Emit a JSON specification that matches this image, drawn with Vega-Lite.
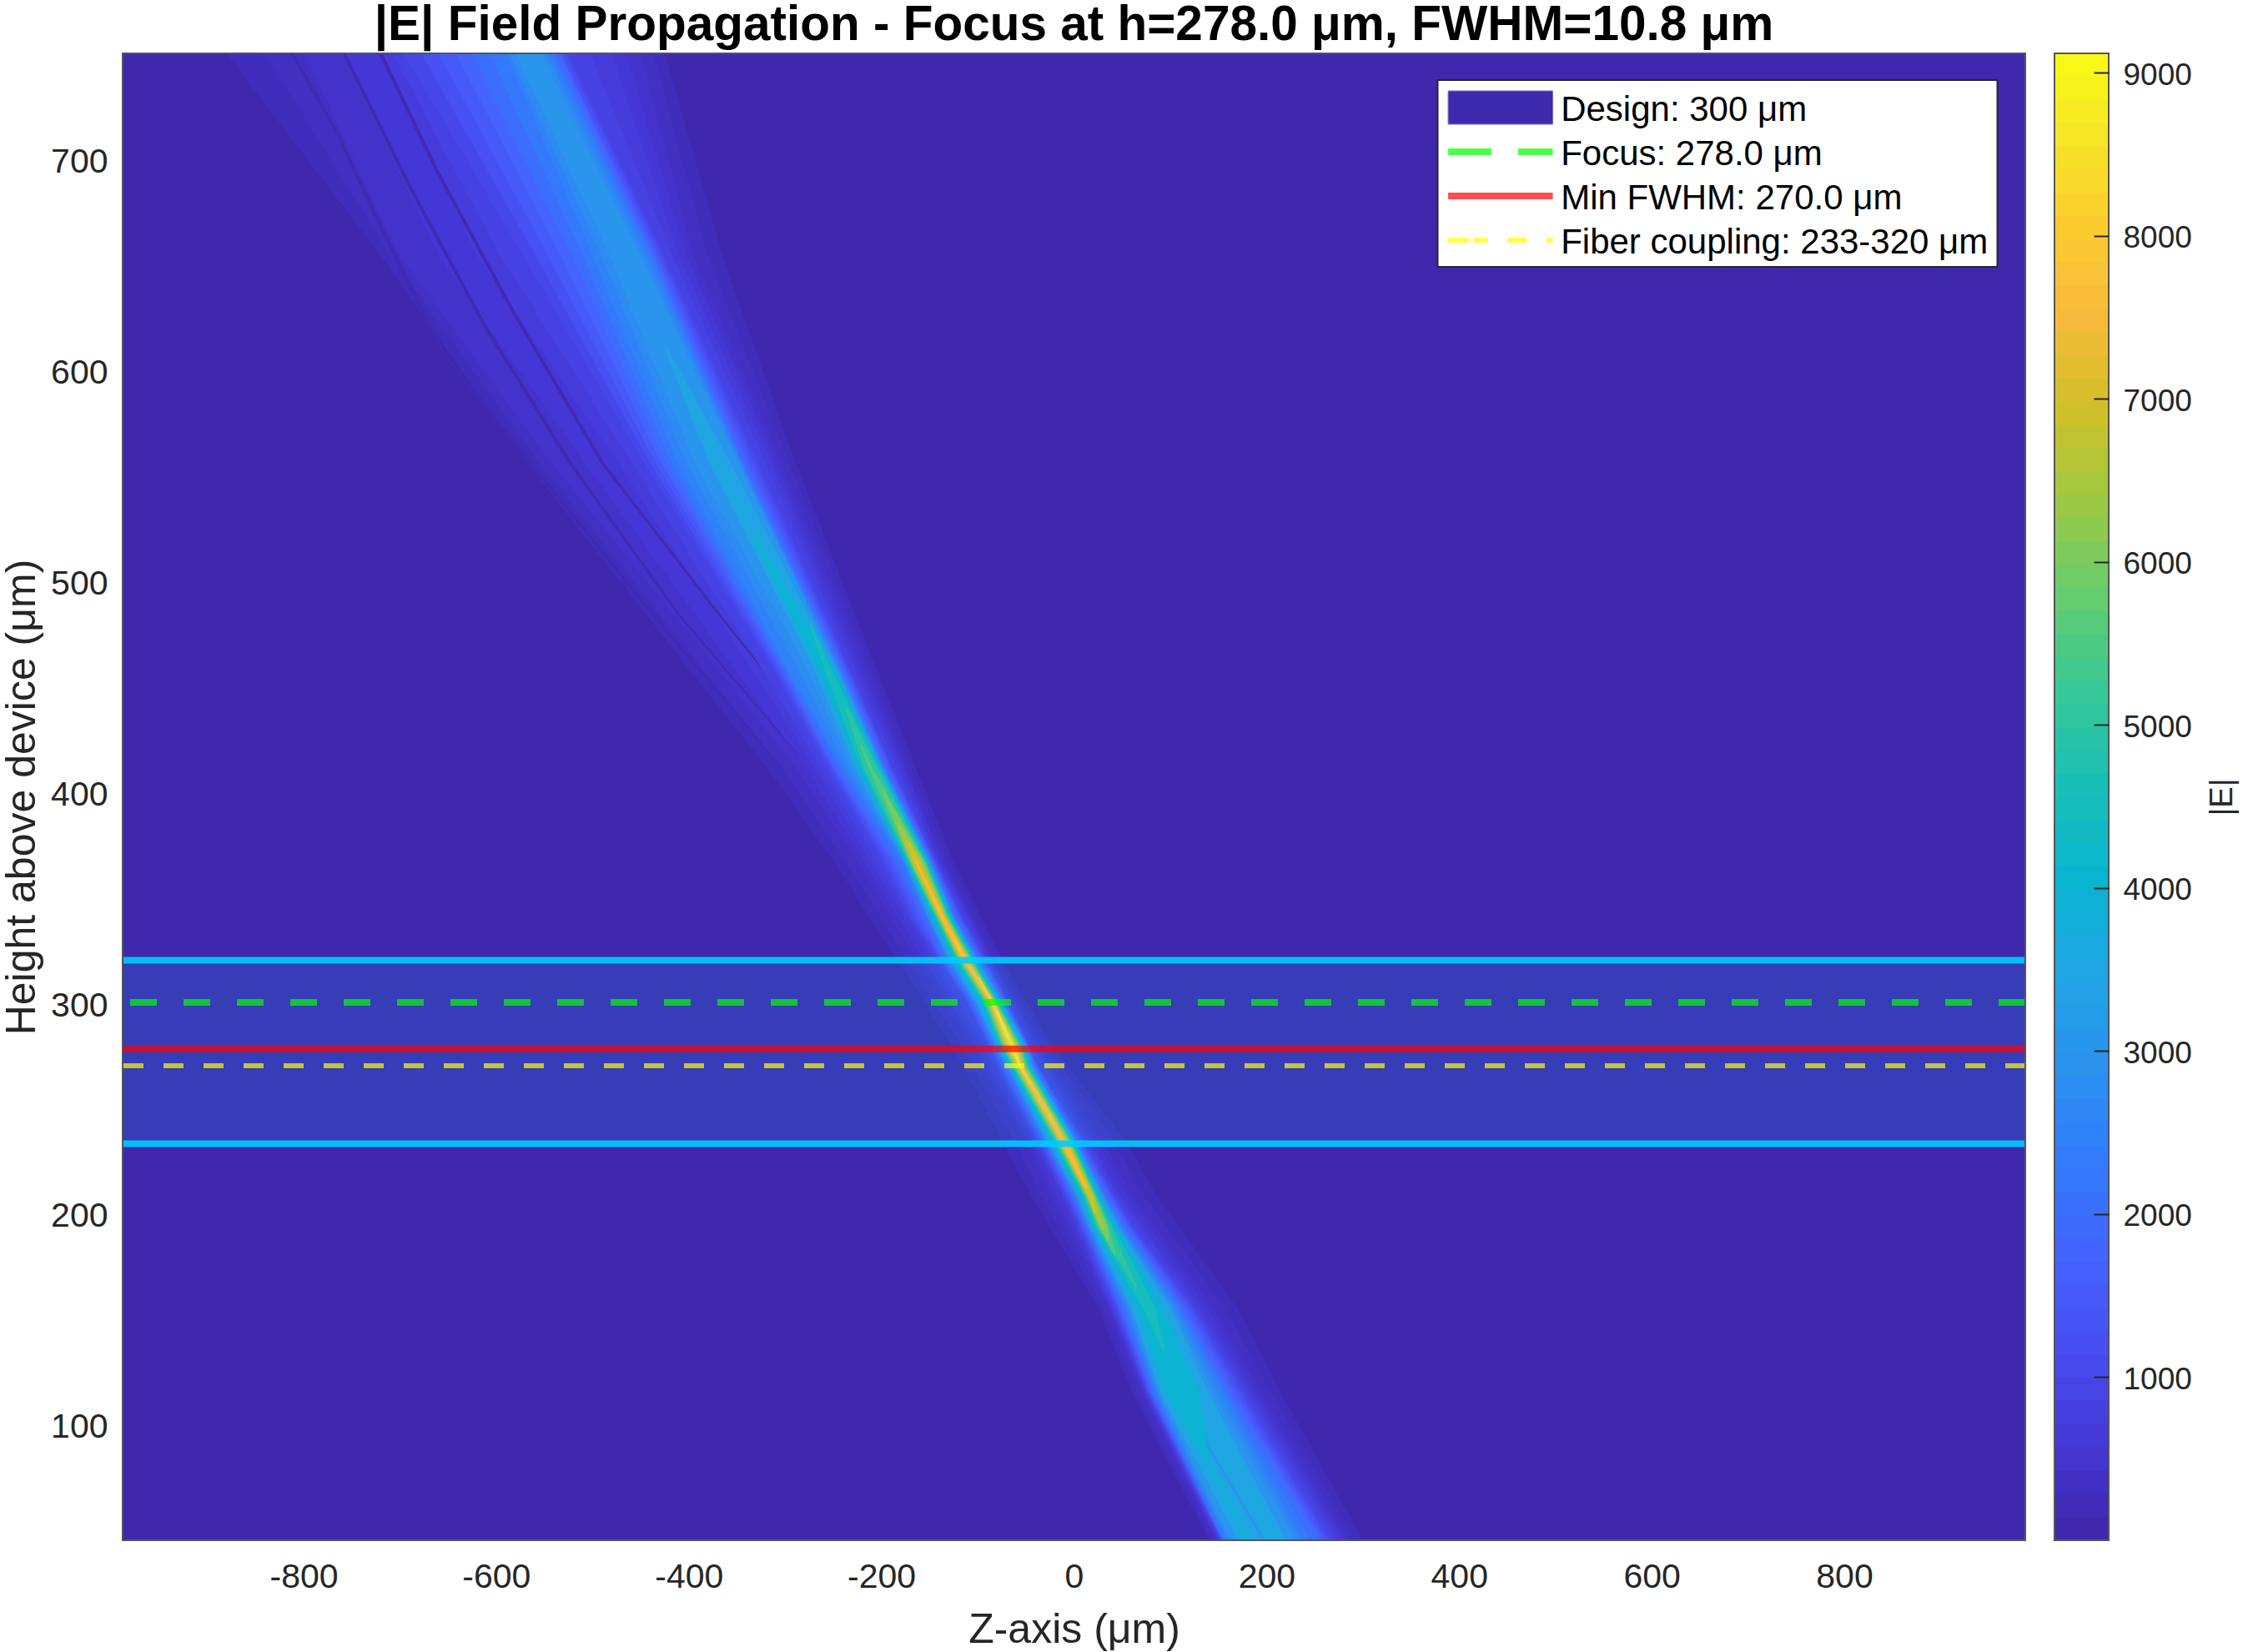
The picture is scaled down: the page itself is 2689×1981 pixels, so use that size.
{
"$schema":"https://vega.github.io/schema/vega-lite/v6.json",
"background":"white",
"padding":{"left":1,"top":0,"right":5,"bottom":5},
"config":{"view":{"stroke":null},"font":"Liberation Sans",
"axis":{"grid":false,"ticks":false,"domain":false,"labelFont":"Liberation Sans","titleFont":"Liberation Sans","labelFontSize":41,"titleFontSize":50,"labelColor":"#262626","titleColor":"#262626","titleFontWeight":"normal"}},
"datasets":{"one":[{"n":1}],"heat":[
{"band":"bg","h":45,"lo":-988,"hi":988,"v":60},{"band":"bg","h":750,"lo":-988,"hi":988,"v":60},
{"band":"h250","h":45,"lo":140,"hi":300,"v":250},{"band":"h250","h":115,"lo":60,"hi":215,"v":250},{"band":"h250","h":155,"lo":25,"hi":170,"v":250},{"band":"h250","h":209,"lo":-45,"hi":85,"v":250},{"band":"h250","h":234,"lo":-75,"hi":55,"v":250},{"band":"h250","h":278,"lo":-125,"hi":-20,"v":250},{"band":"h250","h":321,"lo":-185,"hi":-75,"v":250},{"band":"h250","h":367,"lo":-250,"hi":-125,"v":250},{"band":"h250","h":412,"lo":-320,"hi":-165,"v":250},{"band":"h250","h":458,"lo":-400,"hi":-205,"v":250},{"band":"h250","h":557,"lo":-570,"hi":-290,"v":250},{"band":"h250","h":654,"lo":-720,"hi":-365,"v":250},{"band":"h250","h":750,"lo":-880,"hi":-425,"v":250},
{"band":"h350","h":45,"lo":143,"hi":292,"v":350},{"band":"h350","h":115,"lo":65,"hi":205,"v":350},{"band":"h350","h":155,"lo":30,"hi":157,"v":350},{"band":"h350","h":209,"lo":-35,"hi":72,"v":350},{"band":"h350","h":234,"lo":-62,"hi":42,"v":350},{"band":"h350","h":278,"lo":-115,"hi":-25,"v":350},{"band":"h350","h":321,"lo":-175,"hi":-80,"v":350},{"band":"h350","h":367,"lo":-237,"hi":-130,"v":350},{"band":"h350","h":412,"lo":-305,"hi":-170,"v":350},{"band":"h350","h":458,"lo":-385,"hi":-210,"v":350},{"band":"h350","h":557,"lo":-557,"hi":-297,"v":350},{"band":"h350","h":654,"lo":-710,"hi":-380,"v":350},{"band":"h350","h":750,"lo":-840,"hi":-437,"v":350},
{"band":"h450","h":45,"lo":147,"hi":285,"v":450},{"band":"h450","h":115,"lo":70,"hi":195,"v":450},{"band":"h450","h":155,"lo":35,"hi":145,"v":450},{"band":"h450","h":209,"lo":-25,"hi":60,"v":450},{"band":"h450","h":234,"lo":-50,"hi":30,"v":450},{"band":"h450","h":278,"lo":-105,"hi":-30,"v":450},{"band":"h450","h":321,"lo":-165,"hi":-85,"v":450},{"band":"h450","h":367,"lo":-225,"hi":-135,"v":450},{"band":"h450","h":412,"lo":-290,"hi":-175,"v":450},{"band":"h450","h":458,"lo":-370,"hi":-215,"v":450},{"band":"h450","h":557,"lo":-545,"hi":-305,"v":450},{"band":"h450","h":654,"lo":-700,"hi":-395,"v":450},{"band":"h450","h":750,"lo":-800,"hi":-450,"v":450},
{"band":"h575","h":45,"lo":148,"hi":281,"v":575},{"band":"h575","h":115,"lo":72,"hi":190,"v":575},{"band":"h575","h":155,"lo":37,"hi":139,"v":575},{"band":"h575","h":209,"lo":-19,"hi":54,"v":575},{"band":"h575","h":234,"lo":-46,"hi":24,"v":575},{"band":"h575","h":278,"lo":-100,"hi":-34,"v":575},{"band":"h575","h":321,"lo":-157,"hi":-86,"v":575},{"band":"h575","h":367,"lo":-218,"hi":-137,"v":575},{"band":"h575","h":412,"lo":-280,"hi":-177,"v":575},{"band":"h575","h":458,"lo":-352,"hi":-220,"v":575},{"band":"h575","h":557,"lo":-510,"hi":-310,"v":575},{"band":"h575","h":654,"lo":-660,"hi":-402,"v":575},{"band":"h575","h":750,"lo":-760,"hi":-465,"v":575},
{"band":"h700","h":45,"lo":150,"hi":278,"v":700},{"band":"h700","h":115,"lo":74,"hi":185,"v":700},{"band":"h700","h":155,"lo":39,"hi":133,"v":700},{"band":"h700","h":209,"lo":-14,"hi":48,"v":700},{"band":"h700","h":234,"lo":-42,"hi":18,"v":700},{"band":"h700","h":278,"lo":-95,"hi":-38,"v":700},{"band":"h700","h":321,"lo":-150,"hi":-88,"v":700},{"band":"h700","h":367,"lo":-212,"hi":-140,"v":700},{"band":"h700","h":412,"lo":-270,"hi":-180,"v":700},{"band":"h700","h":458,"lo":-335,"hi":-225,"v":700},{"band":"h700","h":557,"lo":-475,"hi":-315,"v":700},{"band":"h700","h":654,"lo":-620,"hi":-410,"v":700},{"band":"h700","h":750,"lo":-720,"hi":-480,"v":700},
{"band":"d1","h":417,"lo":-286,"hi":-285,"v":150},{"band":"d1","h":484,"lo":-412,"hi":-409,"v":150},{"band":"d1","h":557,"lo":-527,"hi":-523,"v":150},{"band":"d1","h":621,"lo":-614,"hi":-610,"v":150},{"band":"d1","h":687,"lo":-692,"hi":-688,"v":150},{"band":"d1","h":750,"lo":-760,"hi":-756,"v":150},
{"band":"d2","h":425,"lo":-266,"hi":-265,"v":150},{"band":"d2","h":488,"lo":-377,"hi":-374,"v":150},{"band":"d2","h":556,"lo":-492,"hi":-488,"v":150},{"band":"d2","h":628,"lo":-585,"hi":-581,"v":150},{"band":"d2","h":693,"lo":-662,"hi":-658,"v":150},{"band":"d2","h":750,"lo":-722,"hi":-718,"v":150},
{"band":"d3","h":412,"lo":-306,"hi":-305,"v":150},{"band":"d3","h":483,"lo":-437,"hi":-434,"v":150},{"band":"d3","h":556,"lo":-567,"hi":-563,"v":150},{"band":"d3","h":608,"lo":-657,"hi":-653,"v":150},{"band":"d3","h":668,"lo":-722,"hi":-718,"v":150},{"band":"d3","h":713,"lo":-768,"hi":-764,"v":150},{"band":"d3","h":750,"lo":-814,"hi":-810,"v":150},
{"band":"h850","h":45,"lo":151,"hi":273,"v":850},{"band":"h850","h":115,"lo":75,"hi":181,"v":850},{"band":"h850","h":155,"lo":40,"hi":129,"v":850},{"band":"h850","h":209,"lo":-12,"hi":45,"v":850},{"band":"h850","h":234,"lo":-40,"hi":15,"v":850},{"band":"h850","h":278,"lo":-91,"hi":-41,"v":850},{"band":"h850","h":321,"lo":-146,"hi":-90,"v":850},{"band":"h850","h":367,"lo":-206,"hi":-141,"v":850},{"band":"h850","h":412,"lo":-264,"hi":-184,"v":850},{"band":"h850","h":458,"lo":-324,"hi":-228,"v":850},{"band":"h850","h":557,"lo":-461,"hi":-321,"v":850},{"band":"h850","h":654,"lo":-596,"hi":-417,"v":850},{"band":"h850","h":750,"lo":-708,"hi":-502,"v":850},
{"band":"l1000","h":45,"lo":152,"hi":269,"v":1000},{"band":"l1000","h":115,"lo":76,"hi":178,"v":1000},{"band":"l1000","h":155,"lo":42,"hi":126,"v":1000},{"band":"l1000","h":194,"lo":5,"hi":63,"v":1000},{"band":"l1000","h":209,"lo":-10,"hi":42,"v":1000},{"band":"l1000","h":234,"lo":-38,"hi":12,"v":1000},{"band":"l1000","h":270,"lo":-80,"hi":-37,"v":1000},{"band":"l1000","h":278,"lo":-88,"hi":-44,"v":1000},{"band":"l1000","h":300,"lo":-112,"hi":-68,"v":1000},{"band":"l1000","h":321,"lo":-142,"hi":-92,"v":1000},{"band":"l1000","h":340,"lo":-170,"hi":-115,"v":1000},{"band":"l1000","h":367,"lo":-200,"hi":-143,"v":1000},{"band":"l1000","h":412,"lo":-259,"hi":-189,"v":1000},{"band":"l1000","h":458,"lo":-313,"hi":-232,"v":1000},{"band":"l1000","h":557,"lo":-448,"hi":-328,"v":1000},{"band":"l1000","h":654,"lo":-572,"hi":-425,"v":1000},{"band":"l1000","h":750,"lo":-696,"hi":-525,"v":1000},
{"band":"l1250","h":45,"lo":153,"hi":265,"v":1250},{"band":"l1250","h":115,"lo":77,"hi":174,"v":1250},{"band":"l1250","h":155,"lo":44,"hi":123,"v":1250},{"band":"l1250","h":194,"lo":7,"hi":60,"v":1250},{"band":"l1250","h":209,"lo":-8,"hi":40,"v":1250},{"band":"l1250","h":234,"lo":-36,"hi":10,"v":1250},{"band":"l1250","h":270,"lo":-78,"hi":-38,"v":1250},{"band":"l1250","h":278,"lo":-86,"hi":-45,"v":1250},{"band":"l1250","h":300,"lo":-110,"hi":-69,"v":1250},{"band":"l1250","h":321,"lo":-140,"hi":-93,"v":1250},{"band":"l1250","h":340,"lo":-166,"hi":-116,"v":1250},{"band":"l1250","h":367,"lo":-196,"hi":-144,"v":1250},{"band":"l1250","h":412,"lo":-255,"hi":-190,"v":1250},{"band":"l1250","h":458,"lo":-310,"hi":-234,"v":1250},{"band":"l1250","h":557,"lo":-442,"hi":-332,"v":1250},{"band":"l1250","h":654,"lo":-559,"hi":-428,"v":1250},{"band":"l1250","h":750,"lo":-678,"hi":-528,"v":1250},
{"band":"l1500","h":45,"lo":154,"hi":262,"v":1500},{"band":"l1500","h":115,"lo":79,"hi":170,"v":1500},{"band":"l1500","h":155,"lo":46,"hi":120,"v":1500},{"band":"l1500","h":194,"lo":9,"hi":58,"v":1500},{"band":"l1500","h":209,"lo":-6,"hi":38,"v":1500},{"band":"l1500","h":234,"lo":-34,"hi":8,"v":1500},{"band":"l1500","h":270,"lo":-76,"hi":-39,"v":1500},{"band":"l1500","h":278,"lo":-85,"hi":-46,"v":1500},{"band":"l1500","h":300,"lo":-108,"hi":-70,"v":1500},{"band":"l1500","h":321,"lo":-139,"hi":-95,"v":1500},{"band":"l1500","h":340,"lo":-162,"hi":-118,"v":1500},{"band":"l1500","h":367,"lo":-192,"hi":-145,"v":1500},{"band":"l1500","h":412,"lo":-252,"hi":-192,"v":1500},{"band":"l1500","h":458,"lo":-307,"hi":-236,"v":1500},{"band":"l1500","h":557,"lo":-436,"hi":-336,"v":1500},{"band":"l1500","h":654,"lo":-546,"hi":-431,"v":1500},{"band":"l1500","h":750,"lo":-660,"hi":-532,"v":1500},
{"band":"l1750","h":45,"lo":154,"hi":258,"v":1750},{"band":"l1750","h":115,"lo":80,"hi":166,"v":1750},{"band":"l1750","h":155,"lo":48,"hi":116,"v":1750},{"band":"l1750","h":194,"lo":11,"hi":56,"v":1750},{"band":"l1750","h":209,"lo":-4,"hi":36,"v":1750},{"band":"l1750","h":234,"lo":-32,"hi":6,"v":1750},{"band":"l1750","h":270,"lo":-74,"hi":-40,"v":1750},{"band":"l1750","h":278,"lo":-83,"hi":-46,"v":1750},{"band":"l1750","h":300,"lo":-106,"hi":-71,"v":1750},{"band":"l1750","h":321,"lo":-137,"hi":-96,"v":1750},{"band":"l1750","h":340,"lo":-158,"hi":-120,"v":1750},{"band":"l1750","h":367,"lo":-188,"hi":-146,"v":1750},{"band":"l1750","h":412,"lo":-250,"hi":-194,"v":1750},{"band":"l1750","h":458,"lo":-304,"hi":-238,"v":1750},{"band":"l1750","h":557,"lo":-430,"hi":-340,"v":1750},{"band":"l1750","h":654,"lo":-533,"hi":-434,"v":1750},{"band":"l1750","h":750,"lo":-642,"hi":-534,"v":1750},
{"band":"l2000","h":45,"lo":155,"hi":255,"v":2000},{"band":"l2000","h":115,"lo":82,"hi":162,"v":2000},{"band":"l2000","h":155,"lo":50,"hi":113,"v":2000},{"band":"l2000","h":194,"lo":12,"hi":54,"v":2000},{"band":"l2000","h":209,"lo":-3,"hi":34,"v":2000},{"band":"l2000","h":234,"lo":-31,"hi":5,"v":2000},{"band":"l2000","h":270,"lo":-72,"hi":-42,"v":2000},{"band":"l2000","h":278,"lo":-82,"hi":-47,"v":2000},{"band":"l2000","h":300,"lo":-105,"hi":-73,"v":2000},{"band":"l2000","h":321,"lo":-135,"hi":-98,"v":2000},{"band":"l2000","h":340,"lo":-155,"hi":-122,"v":2000},{"band":"l2000","h":367,"lo":-185,"hi":-147,"v":2000},{"band":"l2000","h":412,"lo":-247,"hi":-197,"v":2000},{"band":"l2000","h":458,"lo":-302,"hi":-240,"v":2000},{"band":"l2000","h":557,"lo":-425,"hi":-344,"v":2000},{"band":"l2000","h":654,"lo":-521,"hi":-437,"v":2000},{"band":"l2000","h":750,"lo":-625,"hi":-537,"v":2000},
{"band":"l2250","h":45,"lo":156,"hi":246,"v":2250},{"band":"l2250","h":115,"lo":83,"hi":158,"v":2250},{"band":"l2250","h":155,"lo":52,"hi":110,"v":2250},{"band":"l2250","h":194,"lo":13,"hi":52,"v":2250},{"band":"l2250","h":209,"lo":-1,"hi":32,"v":2250},{"band":"l2250","h":234,"lo":-30,"hi":4,"v":2250},{"band":"l2250","h":270,"lo":-71,"hi":-42,"v":2250},{"band":"l2250","h":278,"lo":-81,"hi":-47,"v":2250},{"band":"l2250","h":300,"lo":-104,"hi":-73,"v":2250},{"band":"l2250","h":321,"lo":-133,"hi":-99,"v":2250},{"band":"l2250","h":340,"lo":-153,"hi":-123,"v":2250},{"band":"l2250","h":367,"lo":-181,"hi":-148,"v":2250},{"band":"l2250","h":412,"lo":-243,"hi":-197,"v":2250},{"band":"l2250","h":458,"lo":-300,"hi":-241,"v":2250},{"band":"l2250","h":557,"lo":-419,"hi":-345,"v":2250},{"band":"l2250","h":654,"lo":-510,"hi":-439,"v":2250},{"band":"l2250","h":750,"lo":-607,"hi":-541,"v":2250},
{"band":"l2500","h":45,"lo":158,"hi":238,"v":2500},{"band":"l2500","h":115,"lo":85,"hi":155,"v":2500},{"band":"l2500","h":155,"lo":54,"hi":108,"v":2500},{"band":"l2500","h":194,"lo":14,"hi":50,"v":2500},{"band":"l2500","h":209,"lo":0,"hi":31,"v":2500},{"band":"l2500","h":234,"lo":-29,"hi":3,"v":2500},{"band":"l2500","h":270,"lo":-70,"hi":-43,"v":2500},{"band":"l2500","h":278,"lo":-80,"hi":-48,"v":2500},{"band":"l2500","h":300,"lo":-103,"hi":-74,"v":2500},{"band":"l2500","h":321,"lo":-132,"hi":-100,"v":2500},{"band":"l2500","h":340,"lo":-152,"hi":-124,"v":2500},{"band":"l2500","h":367,"lo":-178,"hi":-149,"v":2500},{"band":"l2500","h":412,"lo":-240,"hi":-198,"v":2500},{"band":"l2500","h":458,"lo":-297,"hi":-243,"v":2500},{"band":"l2500","h":557,"lo":-413,"hi":-347,"v":2500},{"band":"l2500","h":654,"lo":-500,"hi":-442,"v":2500},{"band":"l2500","h":750,"lo":-590,"hi":-545,"v":2500},
{"band":"l2750","h":45,"lo":160,"hi":234,"v":2750},{"band":"l2750","h":115,"lo":86,"hi":150,"v":2750},{"band":"l2750","h":155,"lo":56,"hi":105,"v":2750},{"band":"l2750","h":194,"lo":15,"hi":48,"v":2750},{"band":"l2750","h":209,"lo":1,"hi":30,"v":2750},{"band":"l2750","h":234,"lo":-28,"hi":2,"v":2750},{"band":"l2750","h":270,"lo":-69,"hi":-43,"v":2750},{"band":"l2750","h":278,"lo":-79,"hi":-48,"v":2750},{"band":"l2750","h":300,"lo":-102,"hi":-74,"v":2750},{"band":"l2750","h":321,"lo":-131,"hi":-101,"v":2750},{"band":"l2750","h":340,"lo":-151,"hi":-124,"v":2750},{"band":"l2750","h":367,"lo":-177,"hi":-149,"v":2750},{"band":"l2750","h":412,"lo":-236,"hi":-199,"v":2750},{"band":"l2750","h":458,"lo":-287,"hi":-244,"v":2750},{"band":"l2750","h":557,"lo":-404,"hi":-348,"v":2750},{"band":"l2750","h":654,"lo":-491,"hi":-446,"v":2750},{"band":"l2750","h":750,"lo":-586,"hi":-548,"v":2750},
{"band":"l3000","h":45,"lo":162,"hi":230,"v":3000},{"band":"l3000","h":115,"lo":88,"hi":145,"v":3000},{"band":"l3000","h":155,"lo":58,"hi":103,"v":3000},{"band":"l3000","h":194,"lo":16,"hi":47,"v":3000},{"band":"l3000","h":209,"lo":2,"hi":29,"v":3000},{"band":"l3000","h":234,"lo":-27,"hi":2,"v":3000},{"band":"l3000","h":270,"lo":-69,"hi":-44,"v":3000},{"band":"l3000","h":278,"lo":-79,"hi":-49,"v":3000},{"band":"l3000","h":300,"lo":-101,"hi":-75,"v":3000},{"band":"l3000","h":321,"lo":-130,"hi":-102,"v":3000},{"band":"l3000","h":340,"lo":-150,"hi":-125,"v":3000},{"band":"l3000","h":367,"lo":-176,"hi":-150,"v":3000},{"band":"l3000","h":412,"lo":-232,"hi":-200,"v":3000},{"band":"l3000","h":458,"lo":-277,"hi":-245,"v":3000},{"band":"l3000","h":557,"lo":-395,"hi":-350,"v":3000},{"band":"l3000","h":654,"lo":-482,"hi":-450,"v":3000},{"band":"l3000","h":750,"lo":-580,"hi":-553,"v":3000},
{"band":"l3500","h":45,"lo":170,"hi":220,"v":3500},{"band":"l3500","h":115,"lo":90,"hi":140,"v":3500},{"band":"l3500","h":155,"lo":60,"hi":100,"v":3500},{"band":"l3500","h":194,"lo":18,"hi":45,"v":3500},{"band":"l3500","h":209,"lo":4,"hi":27,"v":3500},{"band":"l3500","h":234,"lo":-25,"hi":1,"v":3500},{"band":"l3500","h":270,"lo":-67,"hi":-45,"v":3500},{"band":"l3500","h":278,"lo":-77,"hi":-50,"v":3500},{"band":"l3500","h":300,"lo":-99,"hi":-76,"v":3500},{"band":"l3500","h":321,"lo":-128,"hi":-103,"v":3500},{"band":"l3500","h":340,"lo":-148,"hi":-126,"v":3500},{"band":"l3500","h":367,"lo":-175,"hi":-151,"v":3500},{"band":"l3500","h":412,"lo":-228,"hi":-201,"v":3500},{"band":"l3500","h":458,"lo":-270,"hi":-247,"v":3500},{"band":"l3500","h":557,"lo":-380,"hi":-358,"v":3500},{"band":"l3500","h":610,"lo":-425,"hi":-422,"v":3500},
{"band":"s1","h":45,"lo":178,"hi":182,"v":4000},{"band":"s1","h":80,"lo":140,"hi":144,"v":4000},{"band":"s1","h":115,"lo":106,"hi":110,"v":4000},{"band":"s1","h":150,"lo":72,"hi":75,"v":4000},
{"band":"s2","h":45,"lo":196,"hi":199,"v":3000},{"band":"s2","h":100,"lo":124,"hi":127,"v":3000},{"band":"s2","h":140,"lo":84,"hi":86,"v":3000},
{"band":"l4000","h":80,"lo":140,"hi":142,"v":4000},{"band":"l4000","h":115,"lo":95,"hi":130,"v":4000},{"band":"l4000","h":155,"lo":65,"hi":92,"v":4000},{"band":"l4000","h":194,"lo":20,"hi":43,"v":4000},{"band":"l4000","h":209,"lo":6,"hi":26,"v":4000},{"band":"l4000","h":234,"lo":-23,"hi":0,"v":4000},{"band":"l4000","h":270,"lo":-66,"hi":-46,"v":4000},{"band":"l4000","h":278,"lo":-76,"hi":-51,"v":4000},{"band":"l4000","h":300,"lo":-97,"hi":-77,"v":4000},{"band":"l4000","h":321,"lo":-126,"hi":-104,"v":4000},{"band":"l4000","h":340,"lo":-146,"hi":-127,"v":4000},{"band":"l4000","h":367,"lo":-174,"hi":-152,"v":4000},{"band":"l4000","h":412,"lo":-225,"hi":-202,"v":4000},{"band":"l4000","h":458,"lo":-265,"hi":-249,"v":4000},{"band":"l4000","h":520,"lo":-333,"hi":-329,"v":4000},
{"band":"l4500","h":135,"lo":92,"hi":94,"v":4500},{"band":"l4500","h":155,"lo":72,"hi":85,"v":4500},{"band":"l4500","h":194,"lo":21,"hi":41,"v":4500},{"band":"l4500","h":209,"lo":8,"hi":24,"v":4500},{"band":"l4500","h":234,"lo":-21,"hi":-1,"v":4500},{"band":"l4500","h":270,"lo":-65,"hi":-47,"v":4500},{"band":"l4500","h":278,"lo":-75,"hi":-52,"v":4500},{"band":"l4500","h":300,"lo":-95,"hi":-78,"v":4500},{"band":"l4500","h":321,"lo":-124,"hi":-105,"v":4500},{"band":"l4500","h":340,"lo":-144,"hi":-128,"v":4500},{"band":"l4500","h":367,"lo":-173,"hi":-153,"v":4500},{"band":"l4500","h":412,"lo":-222,"hi":-203,"v":4500},{"band":"l4500","h":458,"lo":-259,"hi":-252,"v":4500},{"band":"l4500","h":480,"lo":-276,"hi":-274,"v":4500},
{"band":"l5000","h":165,"lo":64,"hi":66,"v":5000},{"band":"l5000","h":194,"lo":23,"hi":38,"v":5000},{"band":"l5000","h":209,"lo":10,"hi":23,"v":5000},{"band":"l5000","h":234,"lo":-20,"hi":-2,"v":5000},{"band":"l5000","h":270,"lo":-64,"hi":-48,"v":5000},{"band":"l5000","h":278,"lo":-74,"hi":-53,"v":5000},{"band":"l5000","h":300,"lo":-93,"hi":-79,"v":5000},{"band":"l5000","h":321,"lo":-122,"hi":-106,"v":5000},{"band":"l5000","h":340,"lo":-143,"hi":-129,"v":5000},{"band":"l5000","h":367,"lo":-172,"hi":-154,"v":5000},{"band":"l5000","h":412,"lo":-219,"hi":-205,"v":5000},{"band":"l5000","h":440,"lo":-238,"hi":-236,"v":5000},
{"band":"l5500","h":180,"lo":42,"hi":44,"v":5500},{"band":"l5500","h":194,"lo":25,"hi":36,"v":5500},{"band":"l5500","h":209,"lo":11,"hi":22,"v":5500},{"band":"l5500","h":234,"lo":-18,"hi":-3,"v":5500},{"band":"l5500","h":270,"lo":-63,"hi":-49,"v":5500},{"band":"l5500","h":278,"lo":-73,"hi":-54,"v":5500},{"band":"l5500","h":300,"lo":-92,"hi":-80,"v":5500},{"band":"l5500","h":321,"lo":-121,"hi":-107,"v":5500},{"band":"l5500","h":340,"lo":-142,"hi":-130,"v":5500},{"band":"l5500","h":367,"lo":-171,"hi":-155,"v":5500},{"band":"l5500","h":412,"lo":-214,"hi":-210,"v":5500},{"band":"l5500","h":422,"lo":-222,"hi":-220,"v":5500},
{"band":"l6000","h":187,"lo":35,"hi":37,"v":6000},{"band":"l6000","h":194,"lo":26,"hi":35,"v":6000},{"band":"l6000","h":209,"lo":12,"hi":21,"v":6000},{"band":"l6000","h":234,"lo":-17,"hi":-4,"v":6000},{"band":"l6000","h":270,"lo":-62,"hi":-50,"v":6000},{"band":"l6000","h":278,"lo":-72,"hi":-55,"v":6000},{"band":"l6000","h":300,"lo":-91,"hi":-81,"v":6000},{"band":"l6000","h":321,"lo":-120,"hi":-108,"v":6000},{"band":"l6000","h":340,"lo":-141,"hi":-131,"v":6000},{"band":"l6000","h":367,"lo":-170,"hi":-156,"v":6000},{"band":"l6000","h":400,"lo":-199,"hi":-197,"v":6000},
{"band":"l6500","h":192,"lo":30,"hi":32,"v":6500},{"band":"l6500","h":209,"lo":13,"hi":20,"v":6500},{"band":"l6500","h":234,"lo":-16,"hi":-5,"v":6500},{"band":"l6500","h":270,"lo":-61,"hi":-51,"v":6500},{"band":"l6500","h":278,"lo":-71,"hi":-56,"v":6500},{"band":"l6500","h":300,"lo":-90,"hi":-81,"v":6500},{"band":"l6500","h":321,"lo":-119,"hi":-109,"v":6500},{"band":"l6500","h":340,"lo":-140,"hi":-132,"v":6500},{"band":"l6500","h":367,"lo":-169,"hi":-158,"v":6500},{"band":"l6500","h":385,"lo":-184,"hi":-182,"v":6500},
{"band":"l7000","h":200,"lo":21,"hi":23,"v":7000},{"band":"l7000","h":209,"lo":14,"hi":19,"v":7000},{"band":"l7000","h":234,"lo":-15,"hi":-6,"v":7000},{"band":"l7000","h":270,"lo":-60,"hi":-52,"v":7000},{"band":"l7000","h":278,"lo":-70,"hi":-57,"v":7000},{"band":"l7000","h":300,"lo":-89,"hi":-82,"v":7000},{"band":"l7000","h":321,"lo":-118,"hi":-110,"v":7000},{"band":"l7000","h":340,"lo":-139,"hi":-133,"v":7000},{"band":"l7000","h":367,"lo":-167,"hi":-160,"v":7000},{"band":"l7000","h":376,"lo":-173,"hi":-171,"v":7000},
{"band":"l7500","h":212,"lo":12,"hi":14,"v":7500},{"band":"l7500","h":234,"lo":-14,"hi":-7,"v":7500},{"band":"l7500","h":270,"lo":-59,"hi":-53,"v":7500},{"band":"l7500","h":278,"lo":-69,"hi":-58,"v":7500},{"band":"l7500","h":300,"lo":-88,"hi":-82,"v":7500},{"band":"l7500","h":321,"lo":-117,"hi":-111,"v":7500},{"band":"l7500","h":340,"lo":-138,"hi":-134,"v":7500},{"band":"l7500","h":367,"lo":-165,"hi":-163,"v":7500},
{"band":"l8000","h":232,"lo":-9,"hi":-7,"v":8000},{"band":"l8000","h":250,"lo":-33,"hi":-27,"v":8000},{"band":"l8000","h":270,"lo":-58,"hi":-54,"v":8000},{"band":"l8000","h":278,"lo":-68,"hi":-59,"v":8000},{"band":"l8000","h":300,"lo":-87,"hi":-83,"v":8000},{"band":"l8000","h":321,"lo":-115,"hi":-113,"v":8000},{"band":"l8000","h":330,"lo":-125,"hi":-123,"v":8000},
{"band":"l8500","h":262,"lo":-47,"hi":-45,"v":8500},{"band":"l8500","h":270,"lo":-57,"hi":-55,"v":8500},{"band":"l8500","h":278,"lo":-66,"hi":-60,"v":8500},{"band":"l8500","h":300,"lo":-86,"hi":-84,"v":8500},{"band":"l8500","h":312,"lo":-100,"hi":-98,"v":8500},
{"band":"l9000","h":270,"lo":-57,"hi":-55,"v":9000},{"band":"l9000","h":278,"lo":-64,"hi":-62,"v":9000},{"band":"l9000","h":296,"lo":-81,"hi":-79,"v":9000}
],
"bar":[{"a":0,"b":180,"v":71},{"a":143,"b":322,"v":214},{"a":285,"b":465,"v":356},{"a":428,"b":607,"v":499},{"a":570,"b":750,"v":641},{"a":713,"b":892,"v":784},{"a":855,"b":1035,"v":926},{"a":998,"b":1177,"v":1069},{"a":1140,"b":1320,"v":1211},{"a":1283,"b":1462,"v":1354},{"a":1425,"b":1605,"v":1496},{"a":1568,"b":1747,"v":1639},{"a":1710,"b":1890,"v":1781},{"a":1853,"b":2032,"v":1924},{"a":1995,"b":2175,"v":2066},{"a":2138,"b":2317,"v":2209},{"a":2280,"b":2460,"v":2351},{"a":2423,"b":2602,"v":2494},{"a":2565,"b":2745,"v":2636},{"a":2708,"b":2887,"v":2779},{"a":2850,"b":3030,"v":2921},{"a":2993,"b":3172,"v":3064},{"a":3135,"b":3315,"v":3206},{"a":3278,"b":3457,"v":3349},{"a":3420,"b":3600,"v":3491},{"a":3563,"b":3742,"v":3634},{"a":3705,"b":3885,"v":3776},{"a":3848,"b":4027,"v":3919},{"a":3990,"b":4170,"v":4061},{"a":4133,"b":4312,"v":4204},{"a":4275,"b":4455,"v":4346},{"a":4418,"b":4597,"v":4489},{"a":4560,"b":4740,"v":4631},{"a":4703,"b":4882,"v":4774},{"a":4845,"b":5025,"v":4916},{"a":4988,"b":5167,"v":5059},{"a":5130,"b":5310,"v":5201},{"a":5273,"b":5452,"v":5344},{"a":5415,"b":5595,"v":5486},{"a":5558,"b":5737,"v":5629},{"a":5700,"b":5880,"v":5771},{"a":5843,"b":6022,"v":5914},{"a":5985,"b":6165,"v":6056},{"a":6128,"b":6307,"v":6199},{"a":6270,"b":6450,"v":6341},{"a":6413,"b":6592,"v":6484},{"a":6555,"b":6735,"v":6626},{"a":6698,"b":6877,"v":6769},{"a":6840,"b":7020,"v":6911},{"a":6983,"b":7162,"v":7054},{"a":7125,"b":7305,"v":7196},{"a":7268,"b":7447,"v":7339},{"a":7410,"b":7590,"v":7481},{"a":7553,"b":7732,"v":7624},{"a":7695,"b":7875,"v":7766},{"a":7838,"b":8017,"v":7909},{"a":7980,"b":8160,"v":8051},{"a":8123,"b":8302,"v":8194},{"a":8265,"b":8445,"v":8336},{"a":8408,"b":8587,"v":8479},{"a":8550,"b":8730,"v":8621},{"a":8693,"b":8872,"v":8764},{"a":8835,"b":9015,"v":8906},{"a":8978,"b":9120,"v":9049}]
},
"hconcat":[
{"width":2281,"height":1783,
"title":{"text":"|E| Field Propagation - Focus at h=278.0 μm, FWHM=10.8 μm","font":"Liberation Sans","fontSize":58.5,"fontWeight":"bold","color":"black","anchor":"middle","offset":3},
"layer":[
{"data":{"name":"heat"},"mark":{"type":"area","orient":"horizontal"},
"encoding":{
"y":{"field":"h","type":"quantitative","scale":{"domain":[45,750],"nice":false,"zero":false},"axis":{"values":[100,200,300,400,500,600,700],"format":"d","title":"Height above device (μm)","labelPadding":18,"labelOffset":4,"titlePadding":9}},
"x":{"field":"lo","type":"quantitative","scale":{"domain":[-988,988],"nice":false,"zero":false},"axis":{"values":[-800,-600,-400,-200,0,200,400,600,800],"labelExpr":"toString(datum.value)","title":"Z-axis (μm)","labelPadding":24,"titlePadding":18}},
"x2":{"field":"hi"},
"detail":{"field":"band"},
"color":{"field":"v","type":"quantitative","legend":null,"scale":{"interpolate":"rgb","domain":[0,579,1158,1737,2316,2895,3474,4053,4632,5211,5790,6369,6948,7527,8106,8685,9120],"range":["#3e26a8","#4537d5","#474df0","#4563fd","#327bfc","#2b91ef","#20a5e3","#08b5d0","#19bfb6","#37c897","#64cd6f","#9dc943","#d1bf27","#f8ba3d","#fcce2e","#f5e924","#f9fb15"]}}
}},
{"data":{"name":"one"},"mark":{"type":"rect","color":"#00d0ff","opacity":0.12},"encoding":{"y":{"datum":233,"type":"quantitative"},"y2":{"datum":320}}},
{"data":{"name":"one"},"mark":{"type":"rule","color":"#00ccff","opacity":0.9,"strokeWidth":8},"encoding":{"y":{"datum":233,"type":"quantitative"}}},
{"data":{"name":"one"},"mark":{"type":"rule","color":"#00ccff","opacity":0.9,"strokeWidth":8},"encoding":{"y":{"datum":320,"type":"quantitative"}}},
{"data":{"name":"one"},"mark":{"type":"rule","color":"#00ff00","opacity":0.7,"strokeWidth":8,"strokeDash":[32,32]},"encoding":{"y":{"datum":300,"type":"quantitative"}}},
{"data":{"name":"one"},"mark":{"type":"rule","color":"#ff0000","opacity":0.7,"strokeWidth":8},"encoding":{"y":{"datum":278,"type":"quantitative"}}},
{"data":{"name":"one"},"mark":{"type":"rule","color":"#ffff00","opacity":0.7,"strokeWidth":6,"strokeDash":[24,24]},"encoding":{"y":{"datum":270,"type":"quantitative"}}},
{"data":{"name":"one"},"mark":{"type":"rect","filled":false,"stroke":"#555555","strokeWidth":2},"encoding":{"x":{"datum":-988,"type":"quantitative"},"x2":{"datum":988},"y":{"datum":45,"type":"quantitative"},"y2":{"datum":750}}},
{"data":{"name":"one"},"mark":{"type":"rect","fill":"white","stroke":"#262626","strokeWidth":2},"encoding":{"x":{"datum":377.7,"type":"quantitative"},"x2":{"datum":959},"y":{"datum":648.8,"type":"quantitative"},"y2":{"datum":737.3}}},
{"data":{"name":"one"},"mark":{"type":"rect","fill":"#3d2aad","stroke":"#7a6fd0","strokeWidth":1},"encoding":{"x":{"datum":388.6,"type":"quantitative"},"x2":{"datum":497.3},"y":{"datum":716.4,"type":"quantitative"},"y2":{"datum":732.2}}},
{"data":{"name":"one"},"mark":{"type":"rule","color":"#00ff00","opacity":0.7,"strokeWidth":8,"strokeDash":[52,32,33,0]},"encoding":{"x":{"datum":388.6,"type":"quantitative"},"x2":{"datum":497.3},"y":{"datum":703.3,"type":"quantitative"}}},
{"data":{"name":"one"},"mark":{"type":"rule","color":"#ff0000","opacity":0.7,"strokeWidth":8},"encoding":{"x":{"datum":388.6,"type":"quantitative"},"x2":{"datum":497.3},"y":{"datum":682.4,"type":"quantitative"}}},
{"data":{"name":"one"},"mark":{"type":"rule","color":"#ffff00","opacity":0.7,"strokeWidth":6,"strokeDash":[25,6,16,24,23,24,6,0]},"encoding":{"x":{"datum":388.6,"type":"quantitative"},"x2":{"datum":497.3},"y":{"datum":661.4,"type":"quantitative"}}},
{"data":{"name":"one"},"mark":{"type":"text","align":"left","baseline":"middle","dy":3,"fontSize":42,"font":"Liberation Sans","color":"black"},"encoding":{"text":{"value":"Design: 300 μm"},"x":{"datum":505.6,"type":"quantitative"},"y":{"datum":724.3,"type":"quantitative"}}},
{"data":{"name":"one"},"mark":{"type":"text","align":"left","baseline":"middle","dy":3,"fontSize":42,"font":"Liberation Sans","color":"black"},"encoding":{"text":{"value":"Focus: 278.0 μm"},"x":{"datum":505.6,"type":"quantitative"},"y":{"datum":703.3,"type":"quantitative"}}},
{"data":{"name":"one"},"mark":{"type":"text","align":"left","baseline":"middle","dy":3,"fontSize":42,"font":"Liberation Sans","color":"black"},"encoding":{"text":{"value":"Min FWHM: 270.0 μm"},"x":{"datum":505.6,"type":"quantitative"},"y":{"datum":682.4,"type":"quantitative"}}},
{"data":{"name":"one"},"mark":{"type":"text","align":"left","baseline":"middle","dy":3,"fontSize":42,"font":"Liberation Sans","color":"black"},"encoding":{"text":{"value":"Fiber coupling: 233-320 μm"},"x":{"datum":505.6,"type":"quantitative"},"y":{"datum":661.4,"type":"quantitative"}}}
]},
{"width":65,"height":1783,"data":{"name":"bar"},
"layer":[
{"mark":{"type":"rect"},"encoding":{
"y":{"field":"a","type":"quantitative","scale":{"domain":[0,9120],"nice":false,"zero":false},"axis":{"orient":"right","zindex":1,"values":[1000,2000,3000,4000,5000,6000,7000,8000,9000],"format":"d","title":"|E|","titleAngle":270,"ticks":true,"tickColor":"#262626","tickWidth":2,"tickSize":-18,"labelPadding":35,"labelOffset":3,"labelFontSize":37,"titlePadding":56,"titleFontSize":38}},
"y2":{"field":"b"},
"color":{"field":"v","type":"quantitative","legend":null,"scale":{"interpolate":"rgb","domain":[0,579,1158,1737,2316,2895,3474,4053,4632,5211,5790,6369,6948,7527,8106,8685,9120],"range":["#3e26a8","#4537d5","#474df0","#4563fd","#327bfc","#2b91ef","#20a5e3","#08b5d0","#19bfb6","#37c897","#64cd6f","#9dc943","#d1bf27","#f8ba3d","#fcce2e","#f5e924","#f9fb15"]}}
}},
{"data":{"name":"one"},"mark":{"type":"rect","filled":false,"stroke":"#555555","strokeWidth":2},"encoding":{"y":{"datum":0,"type":"quantitative"},"y2":{"datum":9120}}}
]}
],
"spacing":35,
"bounds":"flush"
}
